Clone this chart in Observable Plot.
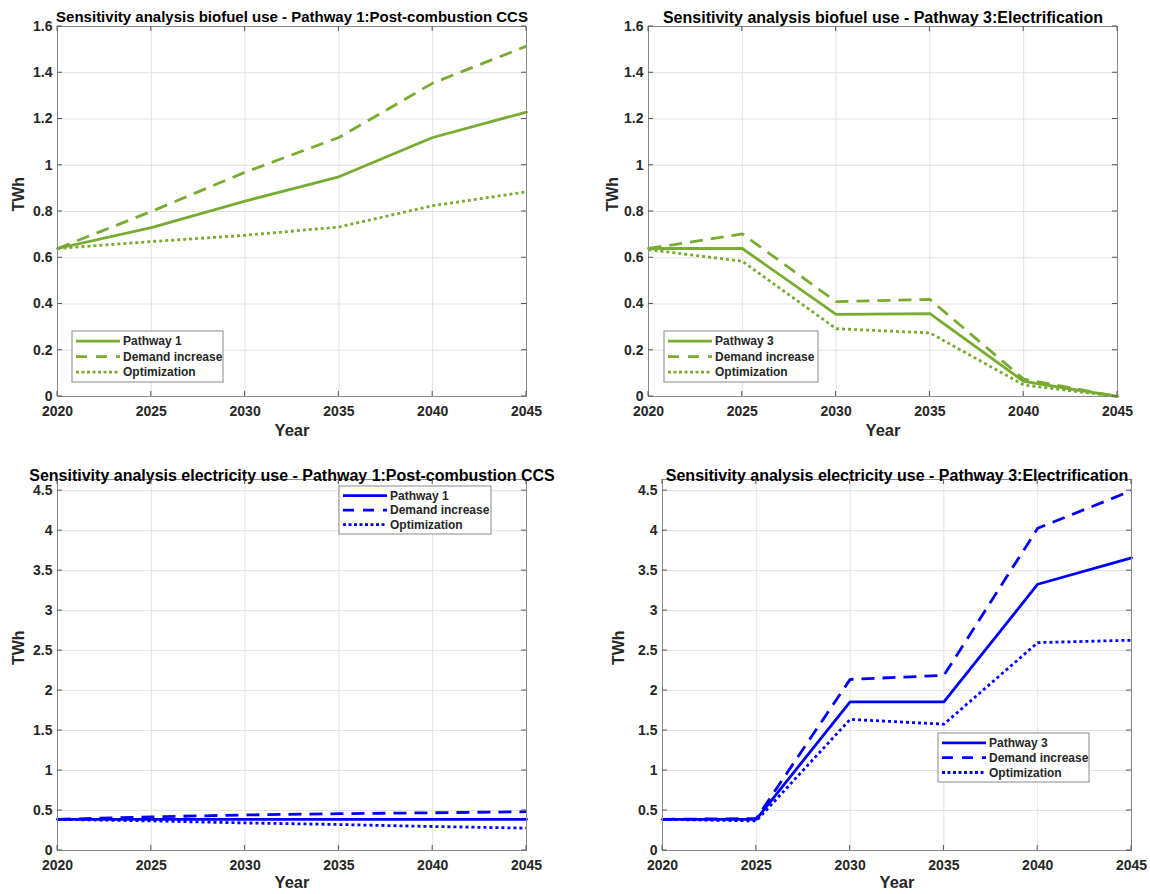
<!DOCTYPE html>
<html>
<head>
<meta charset="utf-8">
<script src="https://cdn.jsdelivr.net/npm/d3@7"></script>
<script src="https://cdn.jsdelivr.net/npm/@observablehq/plot@0.6"></script>
<style>
  body { margin: 0; background: #fff; }
  #wrap { position: relative; width: 1150px; height: 894px; background: #fff; font-family: "Liberation Sans", Arial, sans-serif; }
  #wrap > .panel { position: absolute; }
</style>
</head>
<body>
<div id="wrap"></div>
<script>
// ---------------- DATA ----------------
const years = [2020, 2025, 2030, 2035, 2040, 2045];
const seriesNames1 = ["Pathway 1", "Demand increase", "Optimization"];
const seriesNames3 = ["Pathway 3", "Demand increase", "Optimization"];

// Biofuel use, Pathway 1: Post-combustion CCS (TWh)
const bioP1Base     = [0.64, 0.73, 0.845, 0.95, 1.12, 1.23];
const bioP1Demand   = [0.64, 0.80, 0.97, 1.12, 1.355, 1.515];
const bioP1Optim    = [0.64, 0.67, 0.697, 0.733, 0.825, 0.885];

// Biofuel use, Pathway 3: Electrification (TWh)
const bioP3Base     = [0.64, 0.64, 0.355, 0.358, 0.065, 0.0];
const bioP3Demand   = [0.64, 0.703, 0.41, 0.42, 0.075, 0.0];
const bioP3Optim    = [0.635, 0.585, 0.293, 0.275, 0.05, 0.0];

// Electricity use, Pathway 1: Post-combustion CCS (TWh)
const elP1Base      = [0.39, 0.39, 0.39, 0.39, 0.39, 0.39];
const elP1Demand    = [0.39, 0.42, 0.445, 0.46, 0.472, 0.485];
const elP1Optim     = [0.39, 0.37, 0.345, 0.325, 0.30, 0.28];

// Electricity use, Pathway 3: Electrification (TWh)
const elP3Base      = [0.39, 0.39, 1.86, 1.86, 3.33, 3.66];
const elP3Demand    = [0.39, 0.40, 2.14, 2.19, 4.03, 4.50];
const elP3Optim     = [0.39, 0.37, 1.64, 1.58, 2.60, 2.63];

const yTicksBio  = [0, 0.2, 0.4, 0.6, 0.8, 1, 1.2, 1.4, 1.6];
const yTicksElec = [0, 0.5, 1, 1.5, 2, 2.5, 3, 3.5, 4, 4.5];

const titles = [
  "Sensitivity analysis biofuel use - Pathway 1:Post-combustion CCS",
  "Sensitivity analysis biofuel use - Pathway 3:Electrification",
  "Sensitivity analysis electricity use - Pathway 1:Post-combustion CCS",
  "Sensitivity analysis electricity use - Pathway 3:Electrification"
];

// ---------------- STYLE / LAYOUT ----------------
const GREEN = "#77ac30";
const BLUE = "#0000ff";
const FONT = "'Liberation Sans', Arial, Helvetica, sans-serif";
const dashes = [null, "13,8", "3,3"];

const panels = [
  { title: titles[0], left: 0, top: 0, ml: 57, mr: 49, mt: 26, mb: 51, ymax: 1.6, yticks: yTicksBio,
    color: GREEN, names: seriesNames1, values: [bioP1Base, bioP1Demand, bioP1Optim],
    titleSize: 15, titleDy: -15, yearDy: 39, twhDx: -39, legend: { x: 72, y: 331, w: 151, h: 51 } },
  { title: titles[1], left: 575, top: 0, ml: 73, mr: 33, mt: 26, mb: 51, ymax: 1.6, yticks: yTicksBio,
    color: GREEN, names: seriesNames3, values: [bioP3Base, bioP3Demand, bioP3Optim],
    titleSize: 16, titleDy: -15, yearDy: 39, twhDx: -36, legend: { x: 89, y: 331, w: 154, h: 51 } },
  { title: titles[2], left: 0, top: 447, ml: 57, mr: 49, mt: 32, mb: 44, ymax: 4.64, yticks: yTicksElec,
    color: BLUE, names: seriesNames1, values: [elP1Base, elP1Demand, elP1Optim],
    titleSize: 16, titleDy: -10, yearDy: 37, twhDx: -39, legend: { x: 339, y: 39, w: 152, h: 48 } },
  { title: titles[3], left: 575, top: 447, ml: 87, mr: 19, mt: 32, mb: 44, ymax: 4.64, yticks: yTicksElec,
    color: BLUE, names: seriesNames3, values: [elP3Base, elP3Demand, elP3Optim],
    titleSize: 16, titleDy: -10, yearDy: 37, twhDx: -44, legend: { x: 363, y: 286, w: 151, h: 49 } }
];

const W = 575, H = 447;
const wrap = document.getElementById("wrap");

function fmtY(d) { return String(+d.toFixed(1)); }

panels.forEach(cfg => {
  const rows = [];
  cfg.values.forEach((vals, i) => years.forEach((yr, j) => rows.push({ year: yr, value: vals[j], name: cfg.names[i], k: i })));

  const lineMarks = cfg.values.map((vals, i) =>
    Plot.line(rows.filter(r => r.k === i), {
      x: "year", y: "value", stroke: cfg.color, strokeWidth: 2.8,
      strokeDasharray: dashes[i] || undefined,
      strokeLinecap: i === 0 ? "round" : "butt",
      strokeLinejoin: "round"
    })
  );

  const plot = Plot.plot({
    width: W, height: H,
    marginLeft: cfg.ml, marginRight: cfg.mr, marginTop: cfg.mt, marginBottom: cfg.mb,
    style: { fontFamily: FONT, fontSize: "14px", fontWeight: "bold", color: "#262626", background: "white", overflow: "visible" },
    x: { domain: [2020, 2045], label: null },
    y: { domain: [0, cfg.ymax], label: null },
    marks: [
      Plot.gridX(years, { stroke: "#e2e2e2", strokeOpacity: 1 }),
      Plot.gridY(cfg.yticks, { stroke: "#e2e2e2", strokeOpacity: 1 }),
      Plot.axisX({ ticks: years, tickSize: 0, tickPadding: 10, tickFormat: d => String(d), label: null }),
      Plot.axisY({ ticks: cfg.yticks, tickSize: 0, tickPadding: 5, tickFormat: fmtY, label: null }),
      ...lineMarks,
      Plot.frame({ stroke: "#8a8a8a", strokeWidth: 1 }),
      Plot.text([cfg.title], { frameAnchor: "top", dy: cfg.titleDy, fontSize: cfg.titleSize, fontWeight: "bold", fill: "#000" }),
      Plot.text(["Year"], { frameAnchor: "bottom", dy: cfg.yearDy, fontSize: 16.5, fontWeight: "bold", fill: "#262626" }),
      Plot.text(["TWh"], { frameAnchor: "left", dx: cfg.twhDx, rotate: -90, fontSize: 16, fontWeight: "bold", fill: "#262626" })
    ]
  });

  // inward tick marks on all four sides, through the plot's scales
  const sx = plot.scale("x"), sy = plot.scale("y");
  const svg = d3.select(plot);
  const x0 = cfg.ml, x1 = W - cfg.mr, y0 = cfg.mt, y1 = H - cfg.mb;
  const tg = svg.append("g").attr("stroke", "#555").attr("stroke-width", 1);
  years.forEach(yr => {
    const px = sx.apply(yr);
    tg.append("line").attr("x1", px).attr("x2", px).attr("y1", y1).attr("y2", y1 - 5);
    tg.append("line").attr("x1", px).attr("x2", px).attr("y1", y0).attr("y2", y0 + 5);
  });
  cfg.yticks.forEach(v => {
    const py = sy.apply(v);
    tg.append("line").attr("y1", py).attr("y2", py).attr("x1", x0).attr("x2", x0 + 5);
    tg.append("line").attr("y1", py).attr("y2", py).attr("x1", x1).attr("x2", x1 - 5);
  });

  // legend box
  const L = cfg.legend;
  const lg = svg.append("g").attr("transform", `translate(${L.x},${L.y})`).attr("text-anchor", "start");
  lg.append("rect").attr("width", L.w).attr("height", L.h).attr("fill", "white").attr("stroke", "#8a8a8a").attr("stroke-width", 1);
  const step = L.h / 3.3;
  cfg.names.forEach((n, i) => {
    const cy = L.h * 0.2 + i * step;
    lg.append("line").attr("x1", 4).attr("x2", 48).attr("y1", cy).attr("y2", cy)
      .attr("stroke", cfg.color).attr("stroke-width", 2.8)
      .attr("stroke-dasharray", i === 1 ? "11,9" : i === 2 ? "3,2.5" : null);
    lg.append("text").attr("x", 51).attr("y", cy).attr("dy", "0.35em").attr("text-anchor", "start")
      .attr("font-family", FONT).attr("font-size", 12).attr("font-weight", "bold").attr("fill", "#262626").text(n);
  });

  const holder = document.createElement("div");
  holder.className = "panel";
  holder.style.left = cfg.left + "px";
  holder.style.top = cfg.top + "px";
  holder.appendChild(plot);
  wrap.appendChild(holder);
});
</script>
</body>
</html>
